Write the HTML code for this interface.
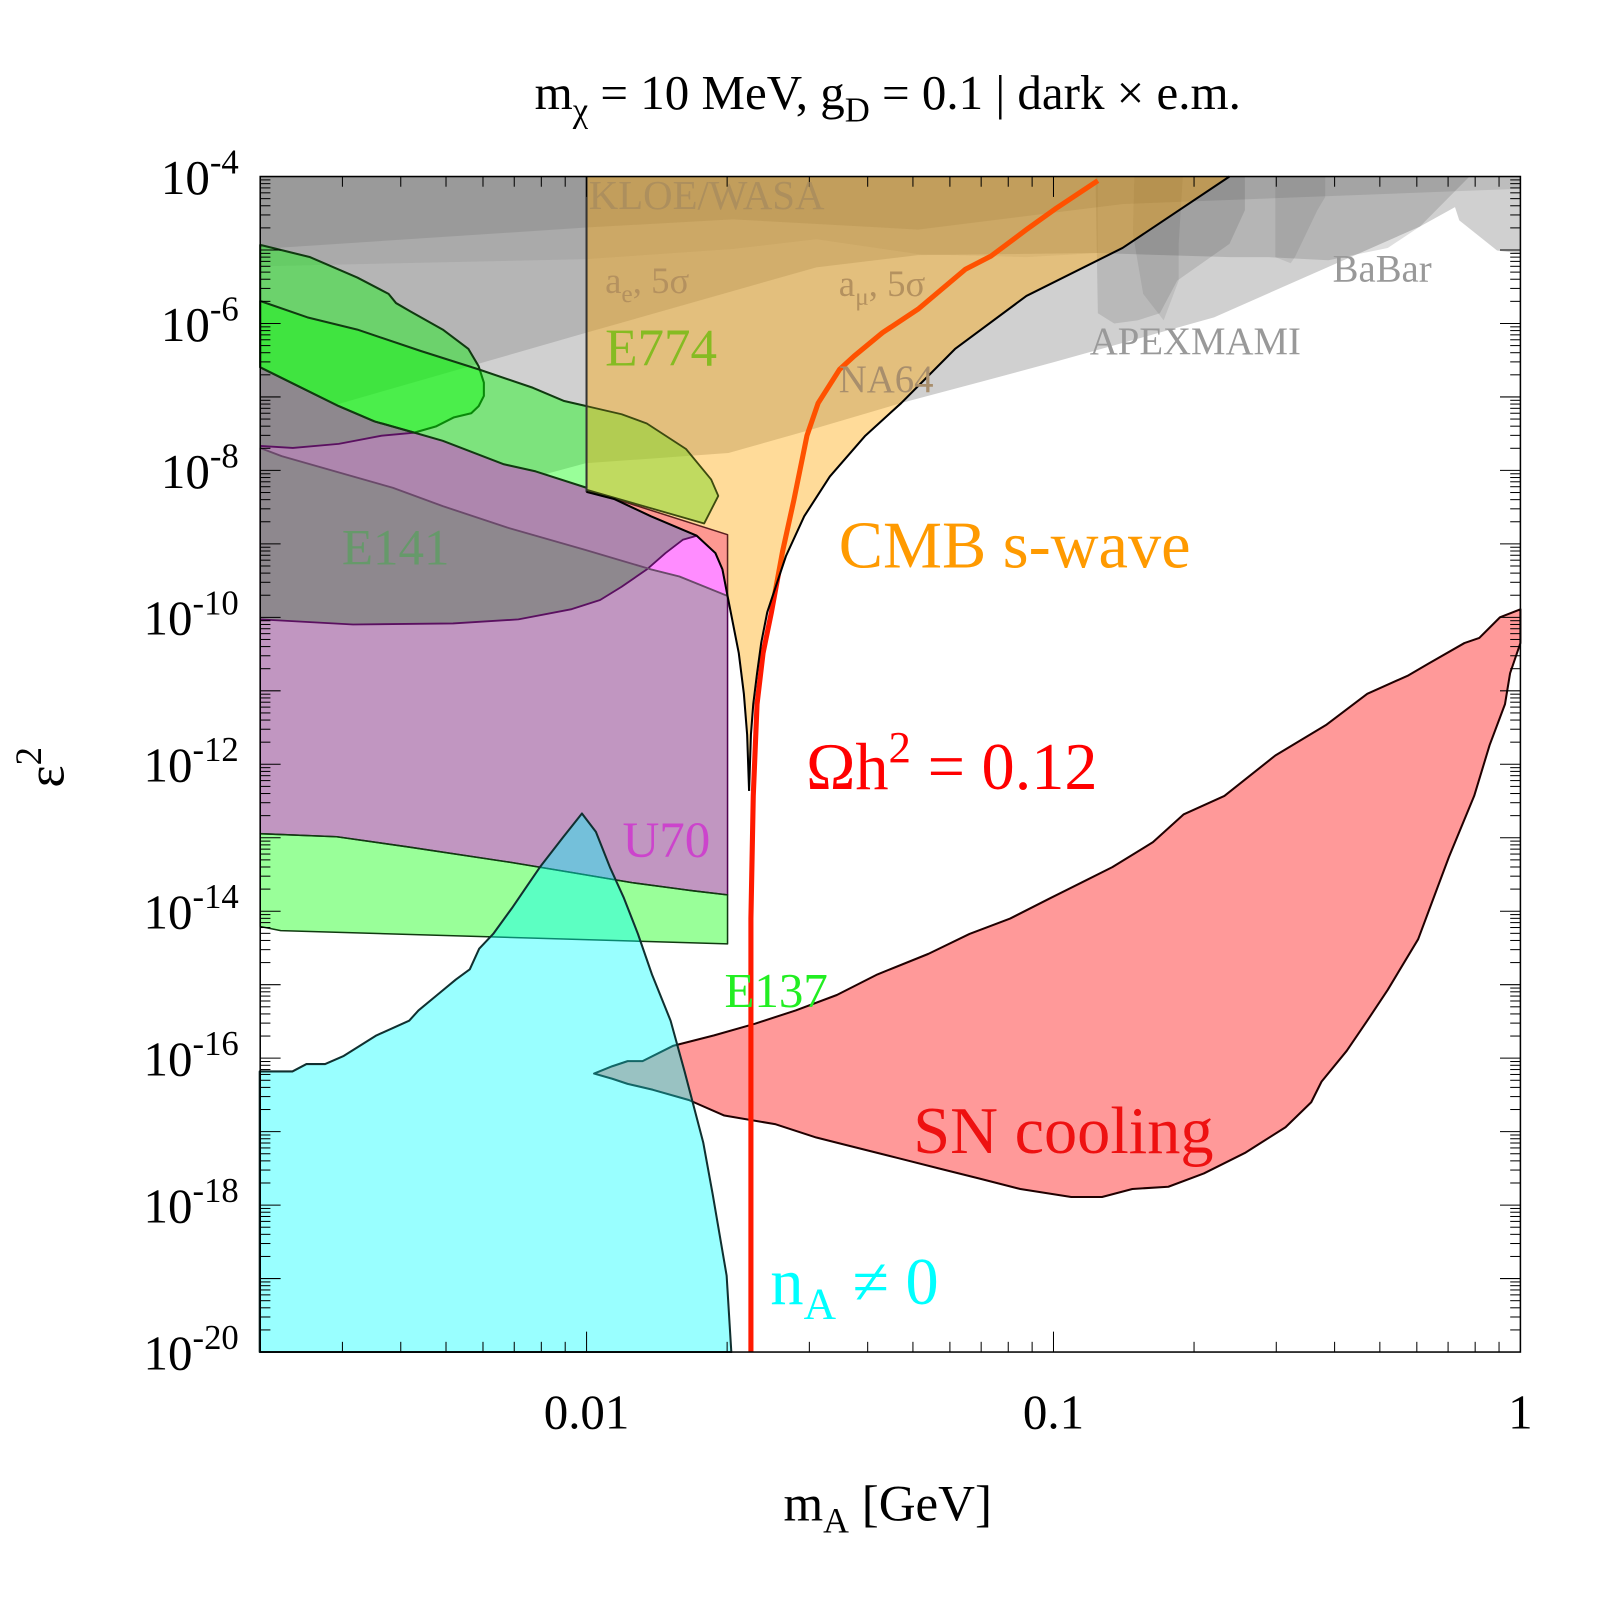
<!DOCTYPE html>
<html><head><meta charset="utf-8"><title>Dark photon parameter space</title>
<style>
html,body{margin:0;padding:0;background:#fff;}
svg{display:block;font-family:"Liberation Serif","DejaVu Serif",serif;}
</style></head>
<body>
<svg id="chart" width="1600" height="1600" viewBox="0 0 1568 1568" xmlns="http://www.w3.org/2000/svg">
<g id="layers"></g>
<g id="ticks"></g>
<rect x="255" y="173" width="1235" height="1152" fill="none" stroke="#000" stroke-width="1.5"/>
<text x="870" y="107" font-size="48" text-anchor="middle">m<tspan font-size="34" dy="12">χ</tspan><tspan dy="-12"> = 10 MeV, g</tspan><tspan font-size="34" dy="12">D</tspan><tspan dy="-12"> = 0.1 | dark × e.m.</tspan></text>
<text x="870" y="1490" font-size="50" text-anchor="middle">m<tspan font-size="35" dy="12">A</tspan><tspan dy="-12"> [GeV]</tspan></text>
<text transform="translate(62,752) rotate(-90)" font-size="52" text-anchor="middle">ε<tspan font-size="36" dy="-22">2</tspan></text>
<g id="labels">
<text x="577" y="205" font-size="40" fill="#a58a5e" fill-opacity="0.75">KLOE/WASA</text>
<text x="593" y="287" font-size="36" fill="#b4915f">a<tspan font-size="25" dy="9">e</tspan><tspan dy="-9">, 5σ</tspan></text>
<text x="822" y="290" font-size="36" fill="#b4915f">a<tspan font-size="25" dy="9">μ</tspan><tspan dy="-9">, 5σ</tspan></text>
<text x="593" y="358" font-size="52" fill="#86bb22">E774</text>
<text x="822" y="384" font-size="38" fill="#a88e6c">NA64</text>
<text x="1068" y="347" font-size="38" fill="#999">APEXMAMI</text>
<text x="1306" y="276" font-size="38" fill="#999">BaBar</text>
<text x="335" y="553" font-size="50" fill="#66996a">E141</text>
<text x="822" y="556" font-size="65" fill="#ff9a00">CMB s-wave</text>
<text x="790" y="773" font-size="65" fill="#ff0000">Ωh<tspan font-size="44" dy="-26">2</tspan><tspan dy="26"> = 0.12</tspan></text>
<text x="610" y="840" font-size="50" fill="#cc44cc">U70</text>
<text x="710" y="987" font-size="48" fill="#22ee22">E137</text>
<text x="895" y="1130" font-size="65" fill="#ee1111">SN cooling</text>
<text x="755" y="1278" font-size="65" fill="#00ffff">n<tspan font-size="44" dy="14">A</tspan><tspan dy="-14"> ≠ 0</tspan></text>
</g>
</svg>
<script>
// ---- data (log10 m_A [GeV], log10 eps^2) ----
const xTickValues = [0.01, 0.1, 1];
const xTickLabels = ["0.01", "0.1", "1"];
const yTickExps = [-4, -6, -8, -10, -12, -14, -16, -18, -20];
const yTickLabels = ["-4", "-6", "-8", "-10", "-12", "-14", "-16", "-18", "-20"];

const lightGray = [[-2.699,-4],[0,-4],[0,-5.049],[-0.050,-5.007],[-0.131,-4.597],[-0.140,-4.417],[-0.215,-4.681],[-0.656,-5.917],[-1.000,-6.528],[-1.113,-6.722],[-1.326,-7.083],[-1.519,-7.444],[-1.696,-7.764],[-2.002,-7.903],[-2.699,-9.097]];
const medGray = [[-2.699,-4],[-0.109,-4],[-0.215,-4.681],[-0.284,-4.972],[-0.411,-5.139],[-0.541,-5.097],[-0.623,-5.097],[-0.905,-5.042],[-1.290,-5.069],[-1.508,-5.236],[-2.000,-6.125],[-2.699,-7.403]];
const kloeBand = [[-2.699,-4],[0,-4],[0,-4.167],[-0.852,-4.375],[-1.290,-4.722],[-1.687,-4.583],[-2.000,-4.694],[-2.699,-4.986]];
const aeBand = [[-2.699,-4],[-0.905,-4],[-0.905,-5.042],[-1.058,-5.097],[-1.290,-5.056],[-1.508,-4.854],[-1.687,-4.986],[-2.000,-5.125],[-2.699,-5.222]];
const babarBlob1 = [[-0.910,-4],[-0.905,-5.861],[-0.870,-6.000],[-0.820,-5.958],[-0.772,-5.861],[-0.735,-5.417],[-0.623,-4.917],[-0.590,-4.458],[-0.590,-4]];
const babarBlob2 = [[-0.827,-4],[-0.830,-4.778],[-0.808,-5.597],[-0.764,-5.958],[-0.732,-5.417],[-0.732,-4.917],[-0.723,-4]];
const babarBlob3 = [[-0.525,-4],[-0.418,-4],[-0.418,-4.278],[-0.435,-4.458],[-0.483,-5.097],[-0.492,-5.181],[-0.525,-5.097]];

const u70 = [[-2.699,-7.694],[-2.653,-7.806],[-2.515,-8.056],[-2.415,-8.236],[-2.308,-8.486],[-2.170,-8.778],[-2.002,-9.083],[-1.862,-9.347],[-1.801,-9.444],[-1.698,-9.708],[-1.698,-13.778],[-1.772,-13.722],[-1.903,-13.611],[-2.032,-13.472],[-2.164,-13.333],[-2.382,-13.125],[-2.535,-12.986],[-2.699,-12.944]];
const e141 = [[-2.699,-6.597],[-2.531,-7.125],[-2.454,-7.333],[-2.369,-7.486],[-2.308,-7.597],[-2.177,-7.917],[-2.109,-8.014],[-2.000,-8.236],[-2.000,-8.292],[-1.941,-8.389],[-1.862,-8.625],[-1.764,-8.889],[-1.794,-8.944],[-1.831,-9.125],[-1.871,-9.347],[-1.925,-9.583],[-1.971,-9.764],[-2.032,-9.889],[-2.146,-10.028],[-2.286,-10.083],[-2.500,-10.097],[-2.699,-10.028]];
const purpleBand = [[-2.699,-7.667],[-2.629,-7.694],[-2.531,-7.639],[-2.439,-7.528],[-2.369,-7.486],[-2.308,-7.597],[-2.177,-7.917],[-2.109,-8.014],[-2.000,-8.236],[-2.000,-8.292],[-1.941,-8.389],[-1.862,-8.625],[-1.764,-8.889],[-1.794,-8.944],[-1.831,-9.125],[-1.871,-9.347],[-2.002,-9.083],[-2.170,-8.778],[-2.308,-8.486],[-2.415,-8.236],[-2.515,-8.056],[-2.653,-7.806],[-2.699,-7.694]];
const magentaPatch = [[-1.871,-9.347],[-1.831,-9.125],[-1.794,-8.944],[-1.764,-8.889],[-1.724,-9.125],[-1.709,-9.347],[-1.698,-9.708],[-1.801,-9.444],[-1.862,-9.347]];
const p3Line = [[-2.699,-10.028],[-2.500,-10.097],[-2.286,-10.083],[-2.146,-10.028],[-2.032,-9.889],[-1.971,-9.764],[-1.925,-9.583],[-1.871,-9.347],[-1.831,-9.125],[-1.794,-8.944],[-1.764,-8.889]];
const p1Line = [[-2.699,-7.667],[-2.629,-7.694],[-2.531,-7.639],[-2.439,-7.528],[-2.369,-7.486]];

const greenBlob = [[-2.699,-4.931],[-2.592,-5.097],[-2.491,-5.375],[-2.424,-5.597],[-2.408,-5.722],[-2.378,-5.833],[-2.308,-6.083],[-2.253,-6.347],[-2.231,-6.583],[-2.220,-6.806],[-2.220,-6.986],[-2.231,-7.125],[-2.247,-7.222],[-2.284,-7.278],[-2.323,-7.403],[-2.369,-7.486],[-2.454,-7.333],[-2.531,-7.125],[-2.699,-6.597]];
const greenBand = [[-2.699,-5.694],[-2.598,-5.917],[-2.491,-6.083],[-2.355,-6.375],[-2.231,-6.625],[-2.115,-6.875],[-2.048,-7.056],[-2.000,-7.125],[-2.000,-8.236],[-2.109,-8.014],[-2.177,-7.917],[-2.308,-7.597],[-2.369,-7.486],[-2.454,-7.333],[-2.531,-7.125],[-2.699,-6.597]];
const e137Strip = [[-2.699,-12.944],[-2.535,-12.986],[-2.382,-13.125],[-2.164,-13.333],[-2.032,-13.472],[-1.903,-13.611],[-1.772,-13.722],[-1.698,-13.778],[-1.698,-14.444],[-2.655,-14.264],[-2.699,-14.208]];
const e774 = [[-2.000,-7.125],[-1.925,-7.236],[-1.871,-7.361],[-1.787,-7.708],[-1.733,-8.125],[-1.718,-8.347],[-1.748,-8.722],[-2.000,-8.264]];
const salmonPatch = [[-2.000,-8.264],[-1.698,-8.875],[-1.698,-9.708],[-1.709,-9.347],[-1.724,-9.125],[-1.764,-8.889],[-1.862,-8.625],[-1.941,-8.389],[-2.000,-8.292]];

const leftCurve = [[-2.000,-8.292],[-1.941,-8.389],[-1.862,-8.625],[-1.764,-8.889],[-1.724,-9.125],[-1.709,-9.347],[-1.698,-9.708],[-1.687,-10.069],[-1.674,-10.486],[-1.663,-11.042],[-1.656,-11.597],[-1.652,-12.361]];
const rightCurve = [[-1.652,-12.361],[-1.648,-11.597],[-1.643,-11.181],[-1.635,-10.764],[-1.626,-10.347],[-1.613,-9.931],[-1.595,-9.583],[-1.573,-9.167],[-1.534,-8.625],[-1.479,-8.083],[-1.403,-7.528],[-1.326,-7.083],[-1.211,-6.347],[-1.058,-5.625],[-0.852,-4.972],[-0.623,-4]];

const relicLine = [[-1.648,-20],[-1.648,-14.097],[-1.643,-12.431],[-1.635,-11.181],[-1.622,-10.486],[-1.604,-9.931],[-1.580,-9.097],[-1.556,-8.403],[-1.528,-7.528],[-1.504,-7.083],[-1.458,-6.625],[-1.427,-6.444],[-1.366,-6.125],[-1.290,-5.806],[-1.189,-5.264],[-1.134,-5.083],[-1.058,-4.722],[-0.997,-4.444],[-0.905,-4.056]];

const nA = [[-2.70,-16.18],[-2.63,-16.18],[-2.60,-16.08],[-2.56,-16.08],[-2.52,-15.97],[-2.45,-15.69],[-2.38,-15.49],[-2.36,-15.35],[-2.32,-15.14],[-2.28,-14.93],[-2.25,-14.79],[-2.23,-14.51],[-2.20,-14.31],[-2.16,-13.96],[-2.10,-13.40],[-2.05,-12.99],[-2.01,-12.67],[-1.98,-12.92],[-1.95,-13.40],[-1.92,-13.82],[-1.89,-14.31],[-1.86,-14.86],[-1.82,-15.49],[-1.79,-16.18],[-1.75,-17.15],[-1.73,-17.85],[-1.70,-18.96],[-1.69,-20],[-2.70,-20]];
const snCooling = [[-1.984,-16.21],[-1.945,-16.11],[-1.912,-16.04],[-1.880,-16.04],[-1.814,-15.83],[-1.770,-15.76],[-1.727,-15.69],[-1.639,-15.53],[-1.552,-15.35],[-1.464,-15.14],[-1.377,-14.86],[-1.268,-14.58],[-1.180,-14.31],[-1.093,-14.10],[-1.006,-13.82],[-0.940,-13.61],[-0.874,-13.40],[-0.787,-13.06],[-0.721,-12.68],[-0.634,-12.43],[-0.525,-11.88],[-0.415,-11.46],[-0.328,-11.04],[-0.240,-10.79],[-0.197,-10.63],[-0.120,-10.35],[-0.088,-10.28],[-0.044,-10.00],[0,-9.89],[0,-10.35],[-0.022,-10.76],[-0.033,-11.18],[-0.066,-11.74],[-0.099,-12.43],[-0.153,-13.26],[-0.186,-13.82],[-0.219,-14.38],[-0.284,-15.07],[-0.328,-15.49],[-0.372,-15.90],[-0.426,-16.32],[-0.448,-16.60],[-0.503,-16.94],[-0.590,-17.29],[-0.678,-17.57],[-0.754,-17.75],[-0.831,-17.78],[-0.896,-17.89],[-0.962,-17.89],[-1.071,-17.78],[-1.158,-17.64],[-1.246,-17.50],[-1.333,-17.36],[-1.421,-17.22],[-1.508,-17.08],[-1.595,-16.90],[-1.705,-16.78],[-1.781,-16.57],[-1.858,-16.43],[-1.912,-16.35],[-1.945,-16.28]];

// ---- axes ----
const X0 = 255, X1 = 1490, Y0 = 173, Y1 = 1325;
const LMIN = Math.log10(0.002), LMAX = 0, EMAX = -4, EMIN = -20;
function X(lm){ return X0 + (lm - LMIN) / (LMAX - LMIN) * (X1 - X0); }
function Y(le){ return Y0 + (EMAX - le) / (EMAX - EMIN) * (Y1 - Y0); }
function pts(arr){ return arr.map(p => X(p[0]).toFixed(1) + ',' + Y(p[1]).toFixed(1)).join(' '); }

const NS = 'http://www.w3.org/2000/svg';
const layers = document.getElementById('layers');
function poly(arr, name, fill, stroke, sw){
  const el = document.createElementNS(NS, 'polygon');
  el.setAttribute('points', pts(arr));
  el.setAttribute('fill', fill);
  el.setAttribute('stroke', stroke || 'none');
  el.setAttribute('stroke-width', sw || 0);
  el.setAttribute('stroke-linejoin', 'round');
  
  
  layers.appendChild(el);
  return el;
}
function line(arr, name, stroke, sw){
  const el = document.createElementNS(NS, 'polyline');
  el.setAttribute('points', pts(arr));
  el.setAttribute('fill', 'none');
  el.setAttribute('stroke', stroke);
  el.setAttribute('stroke-width', sw);
  el.setAttribute('stroke-linejoin', 'round');
  
  
  layers.appendChild(el);
  return el;
}

poly(lightGray, 'babar-apex-region', 'rgba(0,0,0,0.185)');
poly(medGray, 'beam-dump-gray-region', 'rgba(0,0,0,0.13)');
poly(aeBand, 'ae-region', 'rgba(0,0,0,0.06)');
poly(kloeBand, 'kloe-wasa-region', 'rgba(0,0,0,0.09)');
poly(babarBlob1, 'babar-blob-1', 'rgba(0,0,0,0.11)');
poly(babarBlob2, 'babar-blob-2', 'rgba(0,0,0,0.08)');
poly(babarBlob3, 'babar-blob-3', 'rgba(0,0,0,0.08)');

poly(u70, 'u70-region', 'rgb(193,150,193)', '#500050', 1.5);
poly(e141, 'e141-region', 'rgb(142,136,142)');
poly(purpleBand, 'purple-band-region', 'rgb(174,134,174)');
poly(magentaPatch, 'magenta-region', 'rgb(255,140,255)');
line(p3Line, 'e141-lower-edge', '#5a1060', 1.8);
line(p1Line, 'purple-upper-edge', '#5a1060', 1.8);
line(u70.slice(0,10), 'u70-upper-edge', '#6a4a6a', 1.8);

poly(greenBlob, 'green-blob-region', 'rgba(0,255,0,0.4)', '#103a10', 2);
poly(greenBand, 'green-band-region', 'rgba(0,255,0,0.4)', '#103a10', 2);
poly(e137Strip, 'e137-region', 'rgba(0,255,0,0.4)', '#103a10', 1.5);

poly(snCooling, 'sn-cooling-region', 'rgba(255,0,0,0.4)', '#200000', 2);
poly(nA, 'nA-region', 'rgba(0,255,255,0.4)', '#103030', 2);

line(relicLine, 'relic-density-line', '#ff1a00', 5);

const cmb = [[-2.000,-4]].concat(rightCurve.slice().reverse()).concat(leftCurve.slice().reverse());
poly(cmb, 'cmb-swave-region', 'rgba(255,165,0,0.4)');
poly(salmonPatch, 'salmon-region', 'rgb(253,152,145)', '#5a2020', 1.5);
poly(e774, 'e774-region', 'rgba(130,218,40,0.5)', '#3d4a10', 1.8);

line([[-2.000,-4],[-2.000,-8.292]], 'e774-edge-line', '#333', 2);
line(leftCurve, 'cmb-left-curve', '#000', 2);
line(rightCurve, 'cmb-right-curve', '#000', 2);

// ---- ticks ----
const tg = document.getElementById('ticks');
function tick(x1,y1,x2,y2,name){
  const t = document.createElementNS(NS, 'line');
  t.setAttribute('x1', x1); t.setAttribute('y1', y1);
  t.setAttribute('x2', x2); t.setAttribute('y2', y2);
  t.setAttribute('stroke', '#000'); t.setAttribute('stroke-width', 1);
  
  
  tg.appendChild(t);
}
function txt(x, y, s, anchor, name){
  const t = document.createElementNS(NS, 'text');
  t.setAttribute('x', x); t.setAttribute('y', y);
  t.setAttribute('font-size', 48);
  t.setAttribute('text-anchor', anchor);
  t.textContent = s;
  
  
  tg.appendChild(t);
  return t;
}
for (let d = -3; d <= 0; d++){
  for (let k = 1; k <= 9; k++){
    const lm = d + Math.log10(k);
    if (lm < LMIN - 1e-9 || lm > LMAX + 1e-9) continue;
    const len = (k === 1) ? 20 : 10;
    const x = X(lm);
    tick(x, Y1, x, Y1 - len, 'x-tick');
    tick(x, Y0, x, Y0 + len, 'x-tick-top');
  }
}
xTickValues.forEach((v, i) => {
  txt(X(Math.log10(v)), 1400, xTickLabels[i], 'middle', 'x-tick-label');
});
for (let e = EMIN; e < EMAX; e++){
  for (let k = 1; k <= 9; k++){
    const le = e + Math.log10(k);
    const len = (k === 1) ? 20 : 10;
    const y = Y(le);
    tick(X0, y, X0 + len, y, 'y-tick');
    tick(X1, y, X1 - len, y, 'y-tick-right');
  }
}
tick(X0, Y(EMAX), X0 + 20, Y(EMAX), 'y-tick');
yTickExps.forEach((e, i) => {
  const t = txt(234, Y(e) + 17, '', 'end', 'y-tick-label');
  const a = document.createElementNS(NS, 'tspan'); a.textContent = '10';
  const b = document.createElementNS(NS, 'tspan'); b.textContent = yTickLabels[i];
  b.setAttribute('font-size', 34); b.setAttribute('dy', -20);
  t.appendChild(a); t.appendChild(b);
});
</script>
</body></html>
